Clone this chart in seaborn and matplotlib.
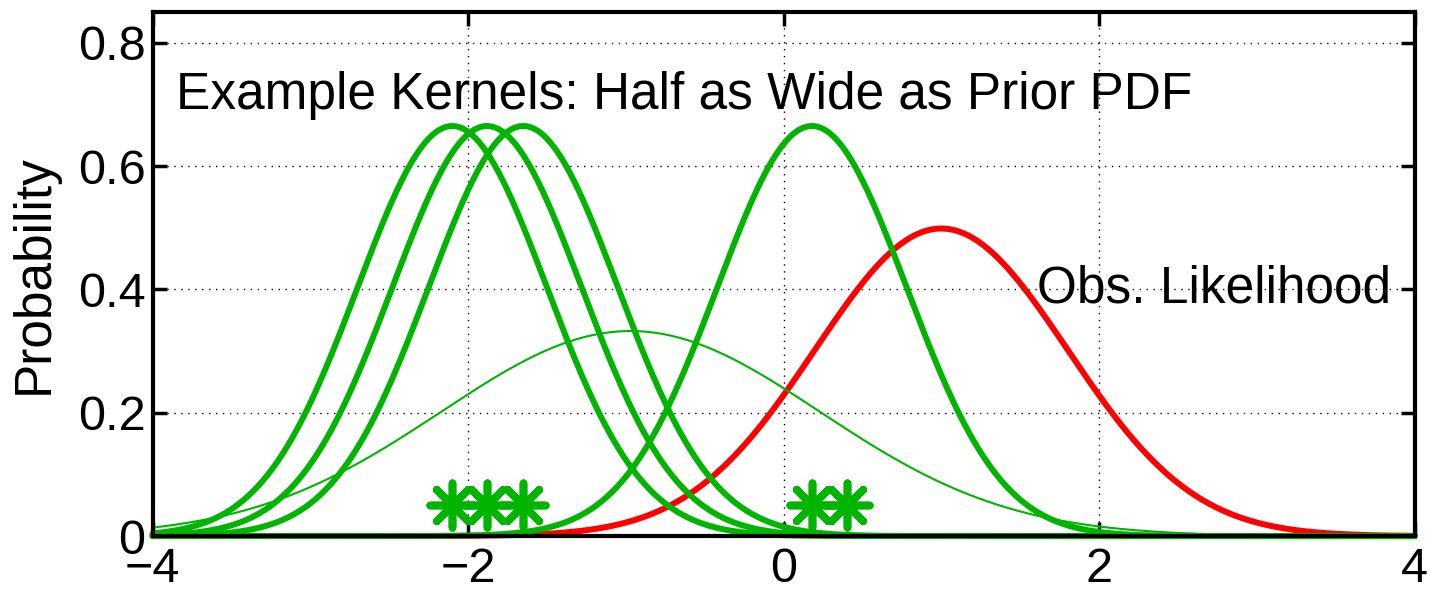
import numpy as np
import pandas as pd
import matplotlib
matplotlib.use("Agg")
import matplotlib.pyplot as plt
import seaborn as sns

# ---- data ----
prior_mean = -0.97
prior_sd = 1.2
kernel_centers = [-2.10, -1.88, -1.65, 0.18]
kernel_sd = 0.6
sample_x = [-2.10, -1.88, -1.65, 0.18, 0.40]
sample_y = [0.05, 0.05, 0.05, 0.05, 0.05]
obs_mean = 1.0
obs_sd = 0.8
x_ticks = [-4, -2, 0, 2, 4]
y_ticks = [0, 0.2, 0.4, 0.6, 0.8]
y_ticklabels = ["0", "0.2", "0.4", "0.6", "0.8"]
x_ticklabels = ["\u22124", "\u22122", "0", "2", "4"]

GREEN = "#00b400"
RED = "#ff0000"

def gauss(x, m, s):
    return np.exp(-0.5 * ((x - m) / s) ** 2) / (s * np.sqrt(2 * np.pi))

x = np.linspace(-4, 4, 801)

sns.set_theme(style="white")
plt.rcParams["font.family"] = ["Liberation Sans", "DejaVu Sans"]
plt.rcParams["text.color"] = "black"
plt.rcParams["axes.labelcolor"] = "black"
plt.rcParams["xtick.color"] = "black"
plt.rcParams["ytick.color"] = "black"

fig = plt.figure(figsize=(14.39, 5.93), dpi=100)
ax = fig.add_axes([0.106, 0.096, 0.877, 0.884])

# observation likelihood (red)
sns.lineplot(x=x, y=gauss(x, obs_mean, obs_sd), color=RED, lw=4.3, ax=ax)
# prior (thin green)
sns.lineplot(x=x, y=gauss(x, prior_mean, prior_sd), color=GREEN, lw=1.5, ax=ax)
# kernels
for c in kernel_centers:
    sns.lineplot(x=x, y=gauss(x, c, kernel_sd), color=GREEN, lw=4.3, ax=ax)
# samples
sns.scatterplot(x=sample_x, y=sample_y, marker=(8, 2, 0), s=32**2, color=GREEN,
                linewidth=5.5, ax=ax, zorder=5)

for ln in ax.lines:
    ln.set_clip_on(False)

ax.set_xlim(-4, 4)
ax.set_ylim(0, 0.85)
ax.set_xticks(x_ticks)
ax.set_xticklabels(x_ticklabels)
ax.set_yticks(y_ticks)
ax.set_yticklabels(y_ticklabels)
ax.tick_params(axis="both", direction="in", length=10, width=2.5, labelsize=35,
               top=True, right=True, bottom=True, left=True, pad=5,
               colors="black")
ax.tick_params(axis="x", pad=8)
ax.grid(True, linestyle=(0, (1, 4)), color="black", linewidth=1.0)
for sp in ax.spines.values():
    sp.set_color("black")
    sp.set_linewidth(3)
ax.set_ylabel("Probability", fontsize=37, color="black")
ax.yaxis.set_label_coords(-0.074, 0.5)
ax.set_xlabel("")

ax.text(-3.85, 0.715, "Example Kernels: Half as Wide as Prior PDF", fontsize=37,
        ha="left", va="center", color="black")
ax.text(3.85, 0.40, "Obs. Likelihood", fontsize=37, ha="right", va="center",
        color="black")

fig.savefig("out.png", dpi=100)
